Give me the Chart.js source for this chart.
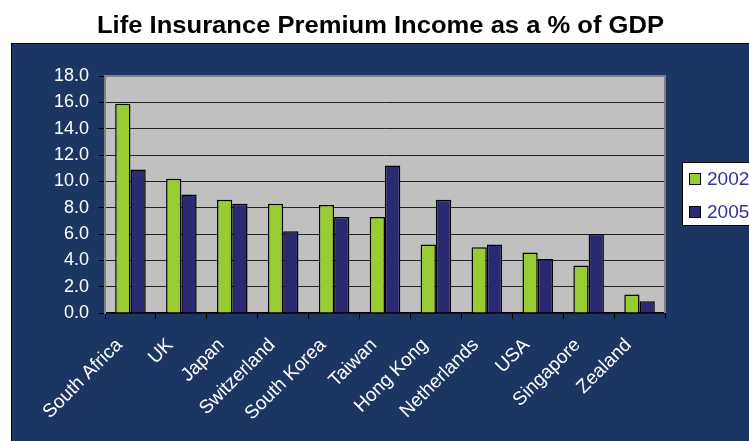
<!DOCTYPE html>
<html>
<head>
<meta charset="utf-8">
<title>Life Insurance Premium Income</title>
<script src="https://cdn.jsdelivr.net/npm/chart.js@4.4.1/dist/chart.umd.min.js"></script>
<style>
  html, body { margin: 0; padding: 0; background: #fff; }
  #wrap { width: 749px; height: 441px; }
</style>
</head>
<body>
<div id="wrap"><canvas id="premiumChart" width="749" height="441"></canvas></div>
<script>
/* premium income vs GDP — grouped bars, 2002 vs 2005 */

const TITLE     = 'Life Insurance Premium Income as a % of GDP';
const countries = ['South Africa', 'UK', 'Japan', 'Switzerland', 'South Korea', 'Taiwan',
                   'Hong Kong', 'Netherlands', 'USA', 'Singapore', 'Zealand'];
const years     = ['2002', '2005'];
const pct2002   = [15.9, 10.2, 8.6, 8.3, 8.2, 7.3, 5.2, 5.0, 4.6, 3.6, 1.4];
const pct2005   = [10.9, 9.0, 8.3, 6.2, 7.3, 11.2, 8.6, 5.2, 4.1, 6.0, 0.9];

const COLORS = {
  navyBg: '#1d3562', plot: '#c0c0c0', green: '#99cc33', bar2: '#2a2a72',
  legendText: '#333399', grid: '#222222', frame: '#808080'
};
const FONT = "'Liberation Sans', Arial, sans-serif";

// ── Background panel, plot area fill and title ───────────────────────────────
const panel = {
  id: 'panel',
  beforeDraw(chart) {
    const { ctx, width, height, chartArea: a } = chart;
    ctx.save();
    ctx.fillStyle = '#fff';
    ctx.fillRect(0, 0, width, height);

    ctx.fillStyle = COLORS.navyBg;
    ctx.fillRect(11, 43, width - 11, height - 43);
    ctx.strokeStyle = '#000';
    ctx.lineWidth = 1;
    ctx.beginPath();
    ctx.moveTo(11.5, height); ctx.lineTo(11.5, 43.5); ctx.lineTo(width, 43.5);
    ctx.stroke();

    ctx.fillStyle = COLORS.plot;
    ctx.fillRect(a.left, a.top, a.right - a.left, a.bottom - a.top);

    // title is a little wider than the plain font, so stretch it sideways
    ctx.fillStyle = '#000';
    ctx.font = `bold 23px ${FONT}`;
    ctx.textAlign = 'left';
    ctx.textBaseline = 'alphabetic';
    const tw = ctx.measureText(TITLE).width;
    const sx = 567 / tw;
    ctx.translate(97, 33);
    ctx.scale(sx, 1);
    ctx.fillText(TITLE, 0, 0);
    ctx.restore();
  },
  beforeDatasetsDraw(chart) {
    const { ctx, chartArea: a } = chart;
    ctx.save();
    ctx.strokeStyle = COLORS.frame;
    ctx.lineWidth = 2;
    ctx.beginPath();
    ctx.moveTo(a.left, a.bottom); ctx.lineTo(a.left, a.top);
    ctx.lineTo(a.right, a.top); ctx.lineTo(a.right, a.bottom);
    ctx.stroke();
    ctx.restore();
  }
};

// ── Legend box on the right edge ─────────────────────────────────────────────
const boxLegend = {
  id: 'boxLegend',
  afterDraw(chart) {
    const { ctx } = chart;
    const x = 682, y = 162, w = 80, h = 64;
    ctx.save();
    ctx.fillStyle = '#fff';
    ctx.fillRect(x, y, w, h);
    ctx.strokeStyle = '#000';
    ctx.lineWidth = 1;
    ctx.strokeRect(x + 0.5, y + 0.5, w, h - 1);

    ctx.font = `19px ${FONT}`;
    ctx.textBaseline = 'middle';
    chart.data.datasets.forEach((ds, i) => {
      const cy = y + 17 + i * 33;
      ctx.fillStyle = ds.backgroundColor;
      ctx.fillRect(689, cy - 6, 12, 12);
      ctx.strokeStyle = '#000';
      ctx.strokeRect(689.5, cy - 5.5, 11, 11);
      ctx.fillStyle = COLORS.legendText;
      ctx.fillText(ds.label, 707, cy + 1);
    });
    ctx.restore();
  }
};

Chart.defaults.font.family = FONT;
Chart.defaults.color = '#fff';

new Chart(document.getElementById('premiumChart'), {
  type: 'bar',
  data: {
    labels: countries,
    datasets: [
      { label: years[0], data: pct2002, backgroundColor: COLORS.green, borderColor: '#000', borderWidth: 1.5 },
      { label: years[1], data: pct2005, backgroundColor: COLORS.bar2,  borderColor: '#000', borderWidth: 1.5 }
    ]
  },
  options: {
    responsive: false,
    animation: false,
    devicePixelRatio: 1,
    layout: { padding: { left: 11, right: 84, top: 76, bottom: 0 } },
    datasets: { bar: { categoryPercentage: 0.6, barPercentage: 1.0 } },
    plugins: { legend: { display: false }, title: { display: false }, tooltip: { enabled: false } },
    scales: {
      x: {
        afterFit: s => { s.height = 128; },
        grid: { offset: true, drawOnChartArea: false, tickLength: 6, tickColor: '#000' },
        border: { color: '#000', width: 1.5 },
        ticks: {
          color: '#fff', font: { size: 19 }, minRotation: 45, maxRotation: 45,
          autoSkip: false, padding: 15, labelOffset: -11
        }
      },
      y: {
        min: 0, max: 18,
        afterFit: s => { s.width = 94; },
        grid: { color: COLORS.grid, lineWidth: 1, tickLength: 6, tickColor: '#000' },
        border: { color: COLORS.frame, width: 2 },
        ticks: { stepSize: 2, color: '#fff', font: { size: 18 }, padding: 10, callback: v => v.toFixed(1) }
      }
    }
  },
  plugins: [panel, boxLegend]
});
</script>
</body>
</html>
